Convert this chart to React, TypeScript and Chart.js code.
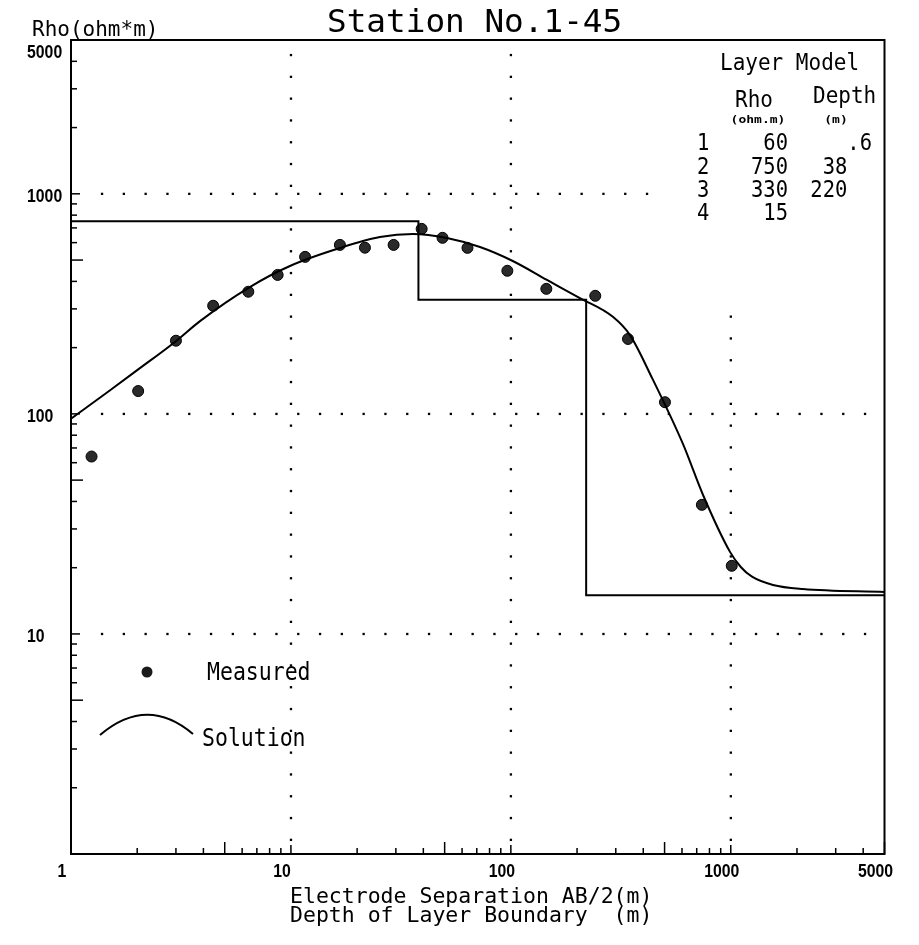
import React, { useEffect, useRef } from "react";
import { Chart, registerables } from "chart.js";

Chart.register(...registerables);

// ---- data ----
const measuredAB2 = [1.24, 2.02, 3.0, 4.43, 6.4, 8.7, 11.6, 16.7, 21.7, 29.3, 39.3, 48.9, 63.5, 96.4, 145, 242, 341, 502, 739, 1010];
const measuredRho = [64, 127, 215, 310, 359, 428, 517, 586, 569, 586, 693, 631, 568, 447, 370, 344, 219, 113, 38.6, 20.4];

const solutionAB2 = [1, 1.49, 2, 3, 3.86, 6.5, 9.9, 16.7, 25.4, 35.9, 51.2, 72.4, 102, 146, 206, 291, 348, 438, 606, 748, 992, 1113, 1249, 1556, 2130, 5000];
const solutionRho = [95, 127, 158, 214, 264, 377, 470, 567, 636, 657, 630, 573, 495, 406, 336, 276, 228, 146, 73, 42.8, 23.6, 20.1, 18.2, 16.7, 16.0, 15.5];

const layerNumbers = ["1", "2", "3", "4"];
const layerRho = [60, 750, 330, 15];
const layerDepth = [0.6, 38, 220];

const xTickValues = [1, 10, 100, 1000, 5000];
const xTickLabels = ["1", "10", "100", "1000", "5000"];
const yTickValues = [5000, 1000, 100, 10];
const yTickLabels = ["5000", "1000", "100", "10"];
const gridDecades = [10, 100, 1000];

const titleText = "Station No.1-45";
const yTitleText = "Rho(ohm*m)";
const xTitleLines = ["Electrode Separation AB/2(m)", "Depth of Layer Boundary  (m)"];
const legendMeasured = "Measured";
const legendSolution = "Solution";

const W = 903;
const H = 929;
const MONO = "'DejaVu Sans Mono', monospace";
const SANS = "'Liberation Sans', Arial, sans-serif";

function txt(ctx: CanvasRenderingContext2D, s: string, x: number, y: number, font: string, align: CanvasTextAlign = "left", sy = 1, sx = 1) {
  ctx.save();
  ctx.font = font;
  ctx.textAlign = align;
  ctx.textBaseline = "alphabetic";
  ctx.fillStyle = "#000";
  ctx.translate(x, y);
  ctx.scale(sx, sy);
  ctx.fillText(s, 0, 0);
  ctx.restore();
}

function fmtDepth(d: number): string {
  if (d < 1) return String(d).replace(/^0/, "");
  return String(d) + "  ";
}

const decorPlugin = {
  id: "decor",
  beforeDatasetsDraw(chart: any) {
    const ctx: CanvasRenderingContext2D = chart.ctx;
    const a = chart.chartArea;
    const xs = chart.scales.x;
    const ys = chart.scales.y;
    const step = 21.8;
    const inTable = (px: number, py: number) => px > a.left + 589 && py < a.top + 270;
    ctx.save();
    ctx.fillStyle = "#000";
    for (const v of gridDecades) {
      const py = ys.getPixelForValue(v);
      for (let px = a.left + 31; px < a.right - 3; px += step) {
        if (inTable(px, py)) continue;
        ctx.fillRect(px - 1.1, py - 1.1, 2.3, 2.3);
      }
      const px = xs.getPixelForValue(v);
      for (let p = a.top + 15; p < a.bottom - 5; p += step) {
        if (inTable(px, p)) continue;
        ctx.fillRect(px - 1.1, p - 1.1, 2.3, 2.3);
      }
    }
    // inward minor ticks
    ctx.strokeStyle = "#000";
    ctx.lineWidth = 1.5;
    for (let d = 1; d <= 1000; d *= 10) {
      for (let k = 1; k <= 9; k++) {
        const v = k * d;
        if (v > 5000) break;
        if (v === 1) continue;
        const len = k === 1 ? 9 : k === 5 ? 12 : 6;
        const py = ys.getPixelForValue(v);
        ctx.beginPath();
        ctx.moveTo(a.left, py);
        ctx.lineTo(a.left + len, py);
        ctx.stroke();
        const px = xs.getPixelForValue(v);
        ctx.beginPath();
        ctx.moveTo(px, a.bottom);
        ctx.lineTo(px, a.bottom - len);
        ctx.stroke();
      }
    }
    ctx.restore();
  },
  afterDatasetsDraw(chart: any) {
    const ctx: CanvasRenderingContext2D = chart.ctx;
    const a = chart.chartArea;
    const xs = chart.scales.x;
    const ys = chart.scales.y;
    ctx.save();
    ctx.strokeStyle = "#000";
    ctx.lineWidth = 2;
    ctx.strokeRect(a.left, a.top, a.right - a.left, a.bottom - a.top);
    ctx.restore();

    // titles
    txt(ctx, titleText, 319, 24, `32.7px ${MONO}`);
    txt(ctx, yTitleText, 24, 28, `21px ${MONO}`);
    txt(ctx, xTitleLines[0], 282, 895, `21.5px ${MONO}`);
    txt(ctx, xTitleLines[1], 282, 914, `21.5px ${MONO}`);

    // tick labels
    yTickValues.forEach((v, i) => {
      const py = ys.getPixelForValue(v);
      txt(ctx, yTickLabels[i], 19, Math.max(py + 8.4, a.top + 18), `bold 15.5px ${SANS}`, "left", 1.15, 1.02);
    });
    xTickValues.forEach((v, i) => {
      const px = xs.getPixelForValue(v);
      txt(ctx, xTickLabels[i], px - 9, a.bottom + 23, `bold 15.5px ${SANS}`, "center", 1.15, 1.02);
    });

    // legend
    ctx.save();
    ctx.fillStyle = "#1a1a1a";
    ctx.beginPath();
    ctx.arc(139, 664, 5.5, 0, Math.PI * 2);
    ctx.fill();
    ctx.strokeStyle = "#000";
    ctx.lineWidth = 2;
    ctx.beginPath();
    ctx.moveTo(92, 727);
    ctx.quadraticCurveTo(139, 687, 185, 726);
    ctx.stroke();
    ctx.restore();
    txt(ctx, legendMeasured, 199, 672, `21.5px ${MONO}`, "left", 1.12);
    txt(ctx, legendSolution, 194, 738, `21.5px ${MONO}`, "left", 1.12);

    // layer model table
    txt(ctx, "Layer Model", 712, 62, `21px ${MONO}`, "left", 1.1);
    txt(ctx, "Rho", 727, 99, `21px ${MONO}`, "left", 1.1);
    txt(ctx, "Depth", 805, 95, `21px ${MONO}`, "left", 1.1);
    txt(ctx, "(ohm.m)", 750, 115, `bold 13px ${MONO}`, "center", 0.8);
    txt(ctx, "(m)", 828, 115, `bold 13px ${MONO}`, "center", 0.8);
    const rows = [142, 166, 189, 212];
    layerRho.forEach((r, i) => {
      const by = rows[i];
      txt(ctx, layerNumbers[i], 689, by, `20.5px ${MONO}`, "left", 1.15);
      txt(ctx, String(r), 780, by, `20.5px ${MONO}`, "right", 1.15);
      if (i < layerDepth.length) txt(ctx, fmtDepth(layerDepth[i]), 864, by, `20.5px ${MONO}`, "right", 1.15);
    });
  },
};

function buildStep() {
  const pts: { x: number; y: number }[] = [];
  layerRho.forEach((r, i) => {
    const start = i === 0 ? 0.1 : layerDepth[i - 1];
    const end = i < layerDepth.length ? layerDepth[i] : 100000;
    pts.push({ x: start, y: r }, { x: end, y: r });
  });
  return pts;
}

export default function App() {
  const ref = useRef<HTMLCanvasElement>(null);
  useEffect(() => {
    if (!ref.current) return;
    const chart = new Chart(ref.current, {
      type: "scatter",
      data: {
        datasets: [
          {
            label: "Layer Model",
            data: buildStep(),
            showLine: true,
            borderColor: "#000",
            borderWidth: 2,
            pointRadius: 0,
            tension: 0,
          },
          {
            label: "Solution",
            data: solutionAB2.map((x, i) => ({ x, y: solutionRho[i] })),
            showLine: true,
            borderColor: "#000",
            borderWidth: 2,
            pointRadius: 0,
            cubicInterpolationMode: "monotone",
          },
          {
            label: "Measured",
            data: measuredAB2.map((x, i) => ({ x, y: measuredRho[i] })),
            showLine: false,
            pointRadius: 5.5,
            pointBackgroundColor: "#2a2a2a",
            pointBorderColor: "#000",
            pointBorderWidth: 1,
          },
        ],
      } as any,
      options: {
        responsive: false,
        animation: false,
        devicePixelRatio: 1,
        layout: { padding: { left: 63, right: 26.5, top: 32, bottom: 83 } },
        plugins: { legend: { display: false }, tooltip: { enabled: false }, title: { display: false } },
        scales: {
          x: { type: "logarithmic", min: 1, max: 5000, display: false },
          y: { type: "logarithmic", min: 1, max: 5000, display: false },
        },
      } as any,
      plugins: [decorPlugin],
    });
    return () => chart.destroy();
  }, []);
  return (
    <div style={{ width: W, height: H }}>
      <canvas ref={ref} width={W} height={H} style={{ display: "block" }} />
    </div>
  );
}
